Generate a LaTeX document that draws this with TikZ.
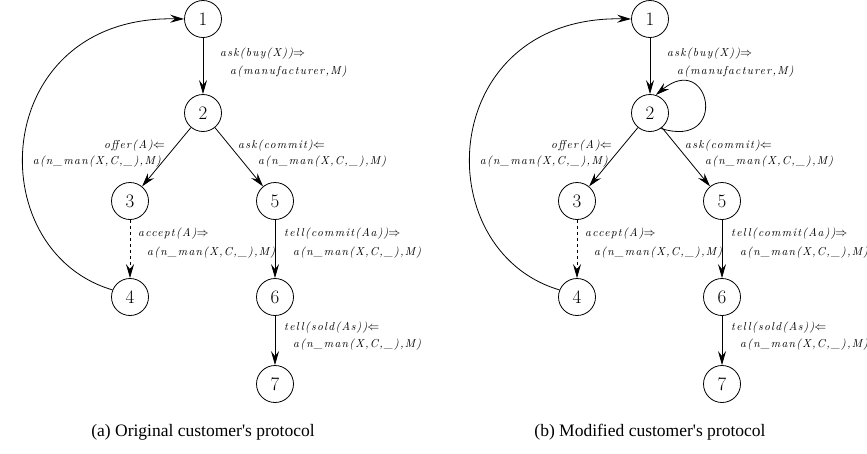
\documentclass[tikz,border=0pt]{standalone}
\usepackage{fontspec}
\usetikzlibrary{arrows.meta}
\newfontfamily\capfont{Liberation Serif}
\newfontfamily\lblfont[LetterSpace=11]{lmroman10-italic.otf}
\tikzset{
  st/.style={circle, draw, line width=0.8pt, minimum size=37pt, inner sep=0pt, font=\fontsize{19}{19}\selectfont},
  lb/.style={inner sep=0pt, font=\lblfont\fontsize{11.5}{11.5}\selectfont},
  arr/.style={line width=0.8pt, -{Stealth[length=14pt,width=8pt,inset=5pt]}},
  captxt/.style={inner sep=0pt, font=\capfont\fontsize{17.5}{17.5}\selectfont}
}
\newcommand\protodraw[1]{%
  \node[st] (#1n1) at (203,19) {1};
  \node[st] (#1n2) at (203,113) {2};
  \node[st] (#1n3) at (130,201) {3};
  \node[st] (#1n5) at (275,201) {5};
  \node[st] (#1n4) at (130,297) {4};
  \node[st] (#1n6) at (275,297) {6};
  \node[st] (#1n7) at (275,384) {7};
  \draw[arr] (#1n1) -- (#1n2);
  \draw[arr] (#1n2) -- (#1n3);
  \draw[arr] (#1n2) -- (#1n5);
  \draw[arr, dashed] (#1n3) -- (#1n4);
  \draw[arr] (#1n5) -- (#1n6);
  \draw[arr] (#1n6) -- (#1n7);
  \draw[arr] (#1n4.158) .. controls (-22,250) and (-10,15) .. (#1n1.west);
  \node[lb, anchor=west] (#1l1a) at (220,54) {ask(buy(X))$\Rightarrow$};
  \node[lb, anchor=west] (#1l1b) at (230,72) {a(manufacturer,M)};
  \node[lb, anchor=east] (#1l2a) at (165,146) {offer(A)$\Leftarrow$};
  \node[lb, anchor=east] (#1l2b) at (161,162) {a(n\_man(X,C,\_),M)};
  \node[lb, anchor=west] (#1l3a) at (238,146) {ask(commit)$\Leftarrow$};
  \node[lb, anchor=west] (#1l3b) at (258,162) {a(n\_man(X,C,\_),M)};
  \node[lb, anchor=west] (#1l4a) at (138,234) {accept(A)$\Rightarrow$};
  \node[lb, anchor=west] (#1l4b) at (147,253) {a(n\_man(X,C,\_),M)};
  \node[lb, anchor=west] (#1l5a) at (284,234) {tell(commit(Aa))$\Rightarrow$};
  \node[lb, anchor=west] (#1l5b) at (293,253) {a(n\_man(X,C,\_),M)};
  \node[lb, anchor=west] (#1l6a) at (284,328) {tell(sold(As))$\Leftarrow$};
  \node[lb, anchor=west] (#1l6b) at (293,345) {a(n\_man(X,C,\_),M)};
}
\begin{document}
\begin{tikzpicture}[x=1pt, y=-1pt]
  \useasboundingbox (0,0) rectangle (867,453);
  \begin{scope}
    \protodraw{a}
  \end{scope}
  \begin{scope}[xshift=447pt]
    \protodraw{b}
    \draw[arr] (bn2.-55) .. controls (283,150) and (263,50) .. (bn2.72);
  \end{scope}
  \node[captxt] (capa) at (203,432) {(a) Original customer's protocol};
  \node[captxt] (capb) at (650,432) {(b) Modified customer's protocol};
\end{tikzpicture}
\end{document}
